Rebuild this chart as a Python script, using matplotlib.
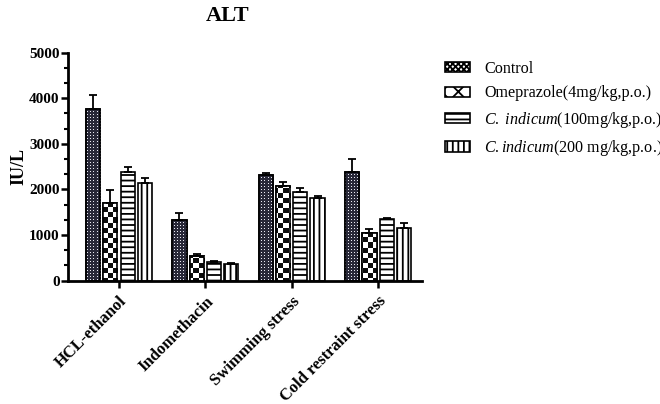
import matplotlib
matplotlib.use("Agg")
import matplotlib.pyplot as plt
import numpy as np
from matplotlib.ticker import MultipleLocator, AutoMinorLocator

plt.rcParams['font.family'] = ['Liberation Serif', 'DejaVu Serif']
plt.rcParams['mathtext.fontset'] = 'custom'
plt.rcParams['mathtext.rm'] = 'Liberation Serif'
plt.rcParams['mathtext.it'] = 'Liberation Serif:italic'
plt.rcParams['hatch.linewidth'] = 1.3

categories = ["HCL-ethanol", "Indomethacin", "Swimming stress", "Cold restraint stress"]
series_names = ["Control", "Omeprazole(4mg/kg,p.o.)",
                r"$\mathit{C.\ indicum}$(100mg/kg,p.o.)",
                r"$\mathit{C.indicum}$(200 mg/kg,p.o.)"]
control = [3765, 1331, 2318, 2390]
control_err = [307, 147, 37, 272]
omeprazole = [1697, 542, 2077, 1039]
omeprazole_err = [292, 50, 94, 95]
cind100 = [2390, 403, 1952, 1346]
cind100_err = [97, 35, 88, 36]
cind200 = [2149, 359, 1820, 1149]
cind200_err = [96, 36, 44, 110]

values = [control, omeprazole, cind100, cind200]
errors = [control_err, omeprazole_err, cind100_err, cind200_err]
hatches = ['xxxxxx', 'XX', '---', '|||']

XL = (-0.591, 3.506)
YL = (0, 5000)

fig = plt.figure(figsize=(6.6, 4.04), dpi=100)
ax = fig.add_axes([0.103, 0.3052, 0.536, 0.5644])

# pixel patterns for control (dark with white dots) and omeprazole (checkerboard)
H, W = 228, 354
ii, jj = np.mgrid[0:H, 0:W]
dark = np.array([0.16, 0.16, 0.22])
pat_ctrl = np.ones((H, W, 3)) * dark
dots = (ii % 3 == 1) & (jj % 3 == 1)
pat_ctrl[dots] = [0.92, 0.92, 0.95]
checker = ((ii // 5) + (jj // 5)) % 2 == 0
pat_omep = np.ones((H, W, 3))
pat_omep[checker] = [0.05, 0.05, 0.05]
patterns = [pat_ctrl, pat_omep, None, None]

x = np.arange(len(categories))
offsets = [-0.3, -0.1, 0.1, 0.3]
width = 0.165
handles = []
for i in range(4):
    bars = ax.bar(x + offsets[i], values[i], width, facecolor='white',
                  edgecolor='black', linewidth=1.2, hatch=hatches[i],
                  label=series_names[i], zorder=2)
    handles.append(bars)
    if patterns[i] is not None:
        for b in bars:
            im = ax.imshow(patterns[i], extent=(XL[0], XL[1], YL[0], YL[1]),
                           origin='upper', aspect='auto',
                           interpolation='nearest', zorder=2.1)
            im.set_clip_path(b)
        ax.bar(x + offsets[i], values[i], width, fill=False,
               edgecolor='black', linewidth=1.2, zorder=2.2)
    ax.errorbar(x + offsets[i], values[i], yerr=[np.zeros(4), errors[i]],
                fmt='none', ecolor='black', elinewidth=1.3, capsize=3,
                capthick=1.3, zorder=3)

ax.set_xlim(*XL)
ax.set_ylim(*YL)
ax.yaxis.set_major_locator(MultipleLocator(1000))
ax.yaxis.set_minor_locator(AutoMinorLocator(3))
ax.set_xticks(x)
ax.set_xticklabels(categories, rotation=45, ha='right', rotation_mode='anchor',
                   fontsize=12, fontweight='bold')
for lab in ax.get_yticklabels():
    lab.set_fontweight('bold')
ax.tick_params(axis='y', labelsize=11, width=1.8, length=5, pad=1)
ax.tick_params(axis='y', which='minor', width=1.5, length=3)
ax.tick_params(axis='x', width=1.8, length=5, pad=4)
for s in ['top', 'right']:
    ax.spines[s].set_visible(False)
for s in ['left', 'bottom']:
    ax.spines[s].set_linewidth(2)

ax.set_ylabel("IU/L", fontsize=13, fontweight='bold')
ax.yaxis.set_label_coords(-0.114, 0.5)

fig.text(0.345, 0.96, "ALT", fontsize=16, fontweight='bold',
         ha='center', va='center')

leg = fig.legend(handles, series_names, loc='upper left',
                 bbox_to_anchor=(0.664, 0.865), frameon=False, fontsize=11.6,
                 handlelength=1.6, handleheight=0.6, labelspacing=0.52,
                 handletextpad=0.85, borderaxespad=0)

fig.savefig("out.png", dpi=100)
